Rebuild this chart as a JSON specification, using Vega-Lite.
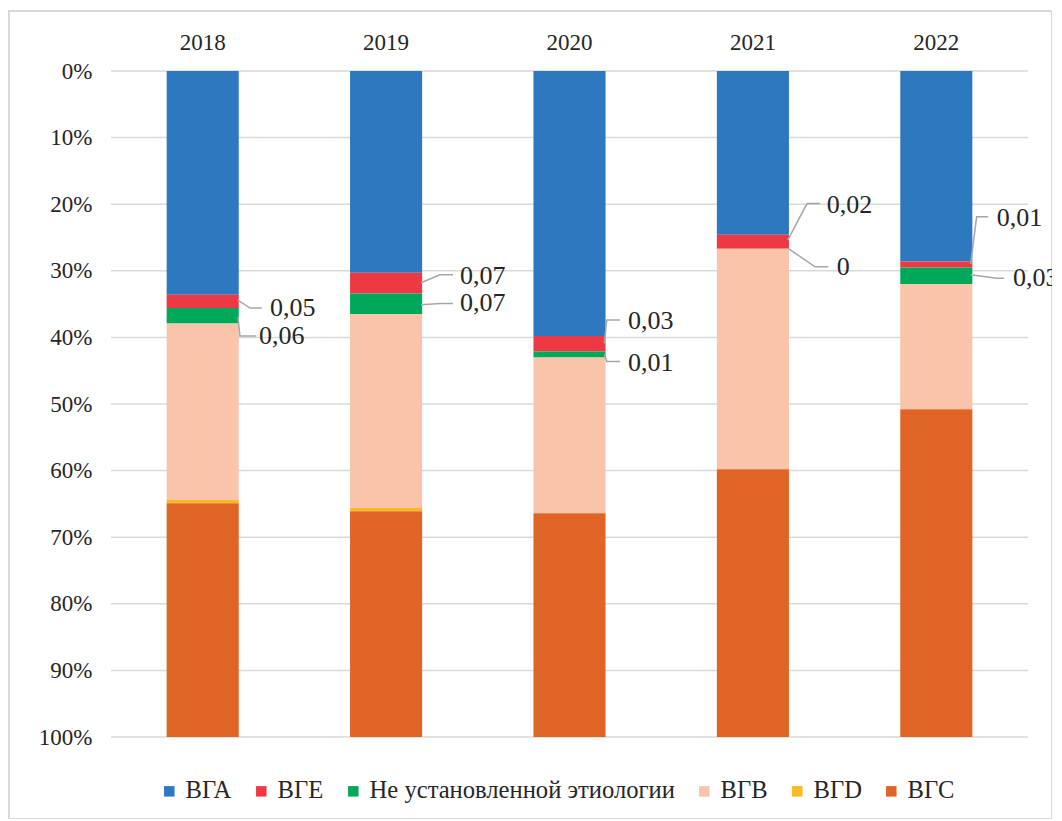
{
  "$schema": "https://vega.github.io/schema/vega-lite/v6.json",
  "width": 1043,
  "height": 808,
  "autosize": {"type": "none"},
  "padding": {"left": 9, "top": 11, "right": 0, "bottom": 0},
  "background": "white",
  "config": {
    "view": {"stroke": "#D9D9D9", "strokeWidth": 2},
    "font": "Liberation Serif",
    "axis": {"labelFont": "Liberation Serif", "labelColor": "#262626"},
    "legend": {"labelFont": "Liberation Serif"}
  },
  "datasets": {
    "seg": [
      {"year": "2018", "cat": "ВГА", "k": 1, "v": 33.6},
      {"year": "2018", "cat": "ВГЕ", "k": 2, "v": 2.0},
      {"year": "2018", "cat": "Не установленной этиологии", "k": 3, "v": 2.3},
      {"year": "2018", "cat": "ВГВ", "k": 4, "v": 26.5},
      {"year": "2018", "cat": "ВГD", "k": 5, "v": 0.5},
      {"year": "2018", "cat": "ВГС", "k": 6, "v": 35.1},
      {"year": "2019", "cat": "ВГА", "k": 1, "v": 30.3},
      {"year": "2019", "cat": "ВГЕ", "k": 2, "v": 3.1},
      {"year": "2019", "cat": "Не установленной этиологии", "k": 3, "v": 3.1},
      {"year": "2019", "cat": "ВГВ", "k": 4, "v": 29.1},
      {"year": "2019", "cat": "ВГD", "k": 5, "v": 0.5},
      {"year": "2019", "cat": "ВГС", "k": 6, "v": 33.9},
      {"year": "2020", "cat": "ВГА", "k": 1, "v": 39.8},
      {"year": "2020", "cat": "ВГЕ", "k": 2, "v": 2.3},
      {"year": "2020", "cat": "Не установленной этиологии", "k": 3, "v": 0.9},
      {"year": "2020", "cat": "ВГВ", "k": 4, "v": 23.4},
      {"year": "2020", "cat": "ВГD", "k": 5, "v": 0},
      {"year": "2020", "cat": "ВГС", "k": 6, "v": 33.6},
      {"year": "2021", "cat": "ВГА", "k": 1, "v": 24.6},
      {"year": "2021", "cat": "ВГЕ", "k": 2, "v": 2.1},
      {"year": "2021", "cat": "Не установленной этиологии", "k": 3, "v": 0},
      {"year": "2021", "cat": "ВГВ", "k": 4, "v": 33.1},
      {"year": "2021", "cat": "ВГD", "k": 5, "v": 0},
      {"year": "2021", "cat": "ВГС", "k": 6, "v": 40.2},
      {"year": "2022", "cat": "ВГА", "k": 1, "v": 28.6},
      {"year": "2022", "cat": "ВГЕ", "k": 2, "v": 0.9},
      {"year": "2022", "cat": "Не установленной этиологии", "k": 3, "v": 2.5},
      {"year": "2022", "cat": "ВГВ", "k": 4, "v": 18.8},
      {"year": "2022", "cat": "ВГD", "k": 5, "v": 0},
      {"year": "2022", "cat": "ВГС", "k": 6, "v": 49.2}
    ],
    "grid": [
      {"g": 0}, {"g": 10}, {"g": 20}, {"g": 30}, {"g": 40}, {"g": 50},
      {"g": 60}, {"g": 70}, {"g": 80}, {"g": 90}, {"g": 100}
    ],
    "labels": [
      {"text": "0,05", "tx": 0.867, "ty": 35.6},
      {"text": "0,06", "tx": 0.807, "ty": 39.8},
      {"text": "0,07", "tx": 1.903, "ty": 30.8},
      {"text": "0,07", "tx": 1.903, "ty": 34.9},
      {"text": "0,03", "tx": 2.819, "ty": 37.6},
      {"text": "0,01", "tx": 2.819, "ty": 43.9},
      {"text": "0,02", "tx": 3.902, "ty": 20.1},
      {"text": "0", "tx": 3.957, "ty": 29.5},
      {"text": "0,01", "tx": 4.829, "ty": 22.1},
      {"text": "0,03", "tx": 4.918, "ty": 31.1}
    ],
    "leaders": [
      {"id": "A", "p": 1, "x": 0.692, "y": 34.4},
      {"id": "A", "p": 2, "x": 0.758, "y": 35.6},
      {"id": "A", "p": 3, "x": 0.823, "y": 35.6},
      {"id": "B", "p": 1, "x": 0.692, "y": 36.9},
      {"id": "B", "p": 2, "x": 0.703, "y": 39.8},
      {"id": "B", "p": 3, "x": 0.792, "y": 39.8},
      {"id": "C", "p": 1, "x": 1.690, "y": 31.8},
      {"id": "C", "p": 2, "x": 1.794, "y": 30.6},
      {"id": "C", "p": 3, "x": 1.865, "y": 30.6},
      {"id": "D", "p": 1, "x": 1.690, "y": 35.1},
      {"id": "D", "p": 2, "x": 1.794, "y": 34.9},
      {"id": "D", "p": 3, "x": 1.865, "y": 34.9},
      {"id": "E", "p": 1, "x": 2.690, "y": 40.9},
      {"id": "E", "p": 2, "x": 2.703, "y": 37.4},
      {"id": "E", "p": 3, "x": 2.775, "y": 37.4},
      {"id": "F", "p": 1, "x": 2.690, "y": 42.5},
      {"id": "F", "p": 2, "x": 2.703, "y": 43.6},
      {"id": "F", "p": 3, "x": 2.775, "y": 43.6},
      {"id": "G", "p": 1, "x": 3.690, "y": 25.4},
      {"id": "G", "p": 2, "x": 3.795, "y": 19.9},
      {"id": "G", "p": 3, "x": 3.866, "y": 19.9},
      {"id": "H", "p": 1, "x": 3.690, "y": 26.6},
      {"id": "H", "p": 2, "x": 3.839, "y": 29.4},
      {"id": "H", "p": 3, "x": 3.911, "y": 29.4},
      {"id": "I", "p": 1, "x": 4.687, "y": 29.0},
      {"id": "I", "p": 2, "x": 4.720, "y": 21.9},
      {"id": "I", "p": 3, "x": 4.783, "y": 21.9},
      {"id": "J", "p": 1, "x": 4.687, "y": 30.6},
      {"id": "J", "p": 2, "x": 4.830, "y": 31.1},
      {"id": "J", "p": 3, "x": 4.870, "y": 31.1}
    ]
  },
  "resolve": {"scale": {"x": "independent"}, "axis": {"x": "independent"}},
  "layer": [
    {
      "data": {"name": "grid"},
      "mark": {"type": "rule", "color": "#D9D9D9", "strokeWidth": 1.5},
      "encoding": {
        "x": {"datum": 0, "type": "quantitative", "scale": {"domain": [0, 5], "range": [102, 1019]}, "axis": null},
        "x2": {"datum": 5},
        "y": {
          "field": "g", "type": "quantitative",
          "scale": {"domain": [0, 100], "range": [60, 726], "nice": false, "zero": false},
          "axis": {"title": null, "values": [0, 10, 20, 30, 40, 50, 60, 70, 80, 90, 100], "labelExpr": "datum.value + '%'", "grid": false, "domain": false, "ticks": false, "labelFont": "Liberation Serif", "labelFontSize": 23, "labelPadding": 5, "offset": -88, "labelColor": "#262626"}
        }
      }
    },
    {
      "data": {"name": "seg"},
      "mark": {"type": "bar"},
      "encoding": {
        "x": {
          "field": "year", "type": "nominal",
          "scale": {"range": [102, 1019], "paddingInner": 0.607, "paddingOuter": 0.3035},
          "axis": {"orient": "top", "title": null, "labelAngle": 0, "domain": false, "ticks": false, "labelFont": "Liberation Serif", "labelFontSize": 23, "labelPadding": 5, "offset": -48, "labelColor": "#262626"}
        },
        "y": {
          "field": "v", "type": "quantitative", "stack": "zero",
          "scale": {"domain": [0, 100], "range": [60, 726], "nice": false, "zero": false},
          "axis": {"title": null, "values": [0, 10, 20, 30, 40, 50, 60, 70, 80, 90, 100], "labelExpr": "datum.value + '%'", "grid": false, "domain": false, "ticks": false, "labelFont": "Liberation Serif", "labelFontSize": 23, "labelPadding": 5, "offset": -88, "labelColor": "#262626"}
        },
        "color": {
          "field": "cat", "type": "nominal",
          "sort": ["ВГА", "ВГЕ", "Не установленной этиологии", "ВГВ", "ВГD", "ВГС"],
          "scale": {
            "domain": ["ВГА", "ВГЕ", "Не установленной этиологии", "ВГВ", "ВГD", "ВГС"],
            "range": ["#2E78BF", "#EE3944", "#00A859", "#F9C4A9", "#FBBA22", "#E06426"]
          },
          "legend": {
            "title": null, "orient": "none", "direction": "horizontal",
            "legendX": 148, "legendY": 768,
            "symbolType": "square", "symbolSize": 110, "symbolStrokeWidth": 0,
            "labelFont": "Liberation Serif", "labelFontSize": 24.6, "labelColor": "#262626",
            "labelLimit": 0, "labelOffset": 4, "columnPadding": 17
          }
        },
        "order": {"field": "k", "type": "quantitative"}
      }
    },
    {
      "layer": [
        {
          "data": {"name": "leaders"},
          "mark": {"type": "line", "color": "#A6A6A6", "strokeWidth": 1.5},
          "encoding": {
            "x": {"field": "x", "type": "quantitative", "scale": {"domain": [0, 5], "range": [102, 1019], "nice": false, "zero": false}, "axis": null},
            "y": {"field": "y", "type": "quantitative", "scale": {"domain": [0, 100], "range": [60, 726], "nice": false, "zero": false}},
            "detail": {"field": "id"},
            "order": {"field": "p", "type": "quantitative"}
          }
        },
        {
          "data": {"name": "labels"},
          "mark": {"type": "text", "align": "left", "baseline": "middle", "font": "Liberation Serif", "fontSize": 26, "color": "#262626"},
          "encoding": {
            "x": {"field": "tx", "type": "quantitative", "scale": {"domain": [0, 5], "range": [102, 1019], "nice": false, "zero": false}, "axis": null},
            "y": {"field": "ty", "type": "quantitative", "scale": {"domain": [0, 100], "range": [60, 726], "nice": false, "zero": false}},
            "text": {"field": "text"}
          }
        }
      ]
    }
  ]
}
